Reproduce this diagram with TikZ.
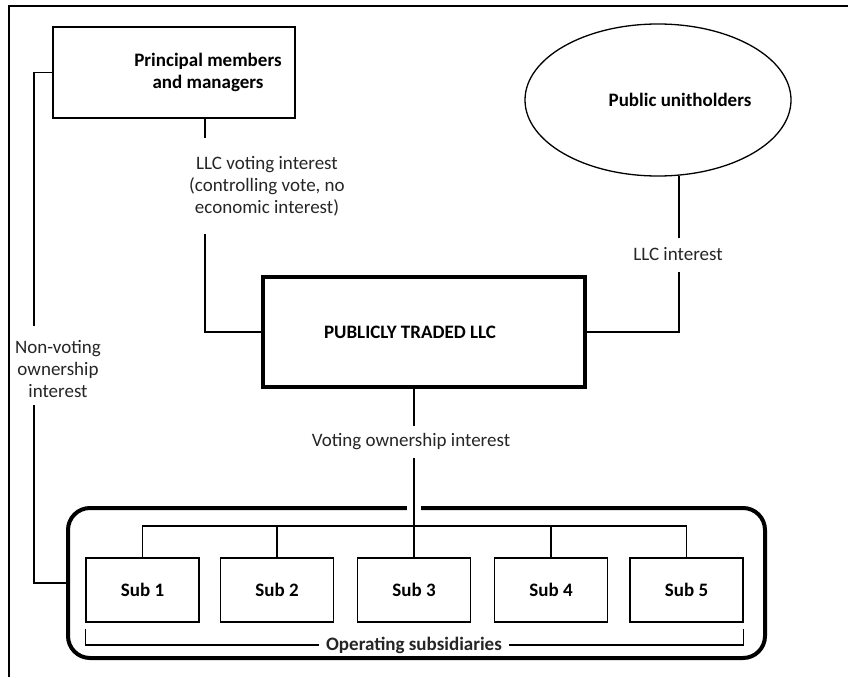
\documentclass[tikz,border=0pt]{standalone}
\usepackage{fontspec}
\setmainfont{Carlito}
\usetikzlibrary{shapes.geometric,calc}
\begin{document}
\begin{tikzpicture}[x=1pt,y=-1pt,
  txt/.style={font=\fontsize{19}{22}\selectfont},
  boxtxt/.style={font=\bfseries\fontsize{19}{22}\selectfont},
  box/.style={draw, line width=1.3pt, inner sep=0pt},
  title/.style={boxtxt, align=center, inner sep=0pt},
  subbox/.style={box, boxtxt, minimum width=113pt, minimum height=64pt},
  lbl/.style={txt, align=center, inner sep=0pt, text=black!85},
  link/.style={line width=1.3pt},
  heavy/.style={line width=4pt}]
\useasboundingbox (0,0) rectangle (848,677);
\fill[white] (0,0) rectangle (848,677);

% outer frame
\draw[line width=1.5pt] (9,677) -- (9,6) -- (848,6);

% top level parties
\node[box, minimum width=242pt, minimum height=91pt] (pm) at (174,72.5) {};
\node[title] (pmt) at (208,72.5) {Principal members\\and managers};
\node[draw, ellipse, line width=1.3pt, inner sep=0pt, minimum width=266pt,
  minimum height=152pt] (pu) at (658,100) {};
\node[title] (put) at (680,100) {Public unitholders};

% the listed company
\node[box, heavy, minimum width=322pt, minimum height=110pt] (llc) at (424,332) {};
\node[title] (llct) at (410,332) {PUBLICLY TRADED LLC};

% operating subsidiaries group
\node[draw, heavy, rounded corners=22pt, minimum width=697pt, minimum height=150pt,
  inner sep=0pt] (grp) at (416.5,583) {};
\node[subbox] (s1) at (142.5,590) {Sub 1};
\node[subbox] (s2) at (277,590) {Sub 2};
\node[subbox] (s3) at (414,590) {Sub 3};
\node[subbox] (s4) at (551,590) {Sub 4};
\node[subbox] (s5) at (686.5,590) {Sub 5};

% labels on the connectors
\node[lbl] (vli) at (267,186) {LLC voting interest\\(controlling vote, no\\economic interest)};
\node[lbl] (lli) at (678,254) {LLC interest};
\node[lbl] (voi) at (411,442) {Voting ownership interest};
\node[lbl] (nvi) at (58,369) {Non-voting\\ownership\\interest};
\node[lbl, boxtxt, inner xsep=7pt] (ops) at (414,645) {Operating subsidiaries};

% break points of the connectors around their labels
\coordinate (v1) at (205,138);
\coordinate (v2) at (205,234);
\coordinate (u1) at (679,238);
\coordinate (u2) at (679,272);
\coordinate (w1) at (414,426);
\coordinate (w2) at (414,458);
\coordinate (n1) at (34,326);
\coordinate (n2) at (34,405);
\coordinate (bus) at (0,526);

% principal members -> LLC
\draw[link] (pm.south -| v1) -- (v1);
\draw[link] (v2) |- (llc.west);
% public unitholders -> LLC
\draw[link] (pu.south -| u1) ++(0,-1) -- (u1);
\draw[link] (u2) |- (llc.east);
% LLC -> subsidiaries
\draw[link] (llc.south -| w1) -- (w1);
\draw[white, line width=6pt] (407,508) -- (421,508);
\draw[link] (w2) -- (s3.north);
% distribution bar over the subsidiaries
\draw[link] (s1.north) -- (s1.north |- bus) -- (s5.north |- bus) -- (s5.north);
\draw[link] (s2.north) -- (s2.north |- bus);
\draw[link] (s4.north) -- (s4.north |- bus);
% principal members -> subsidiaries
\draw[link] (pm.west) -| (n1);
\draw[link] (n2) |- (grp.west);
% bracket under the subsidiaries
\draw[link] ($(s1.south west)+(0,6)$) |- (ops.west);
\draw[link] ($(s5.south east)+(0,6)$) |- (ops.east);
\end{tikzpicture}
\end{document}
